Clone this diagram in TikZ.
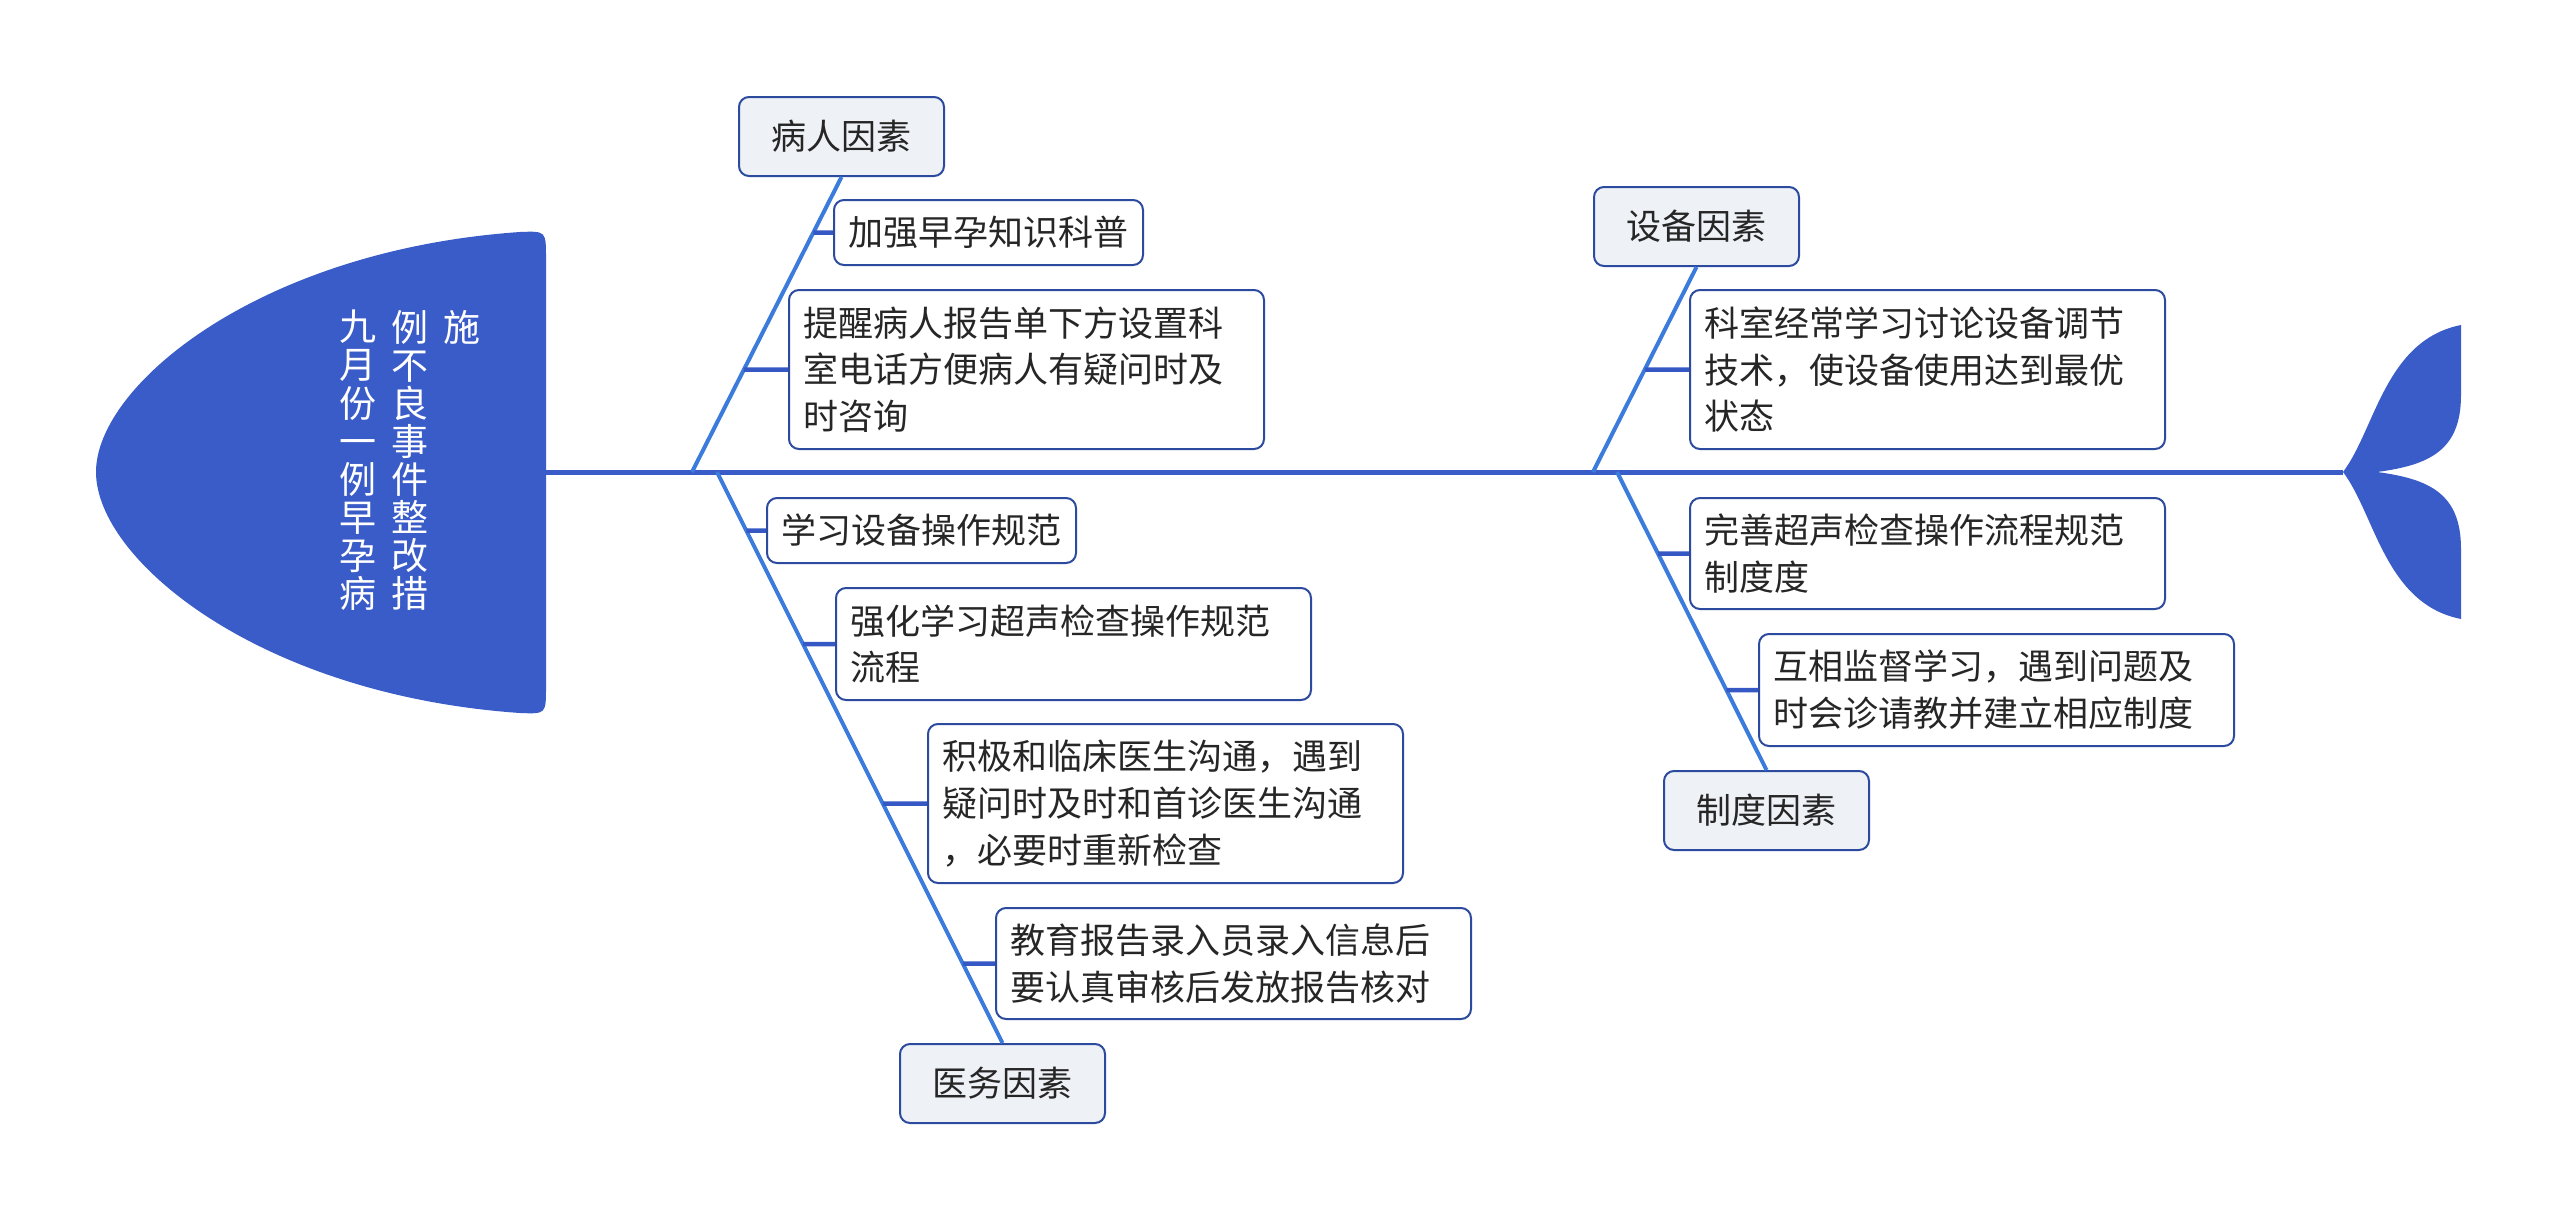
\documentclass[tikz,border=0pt]{standalone}
\usepackage{fontspec}
\setmainfont{Noto Sans CJK SC}
\definecolor{fishblue}{HTML}{3A5CC8}
\definecolor{branchblue}{HTML}{3B7BDC}
\definecolor{subblue}{HTML}{3558C4}
\definecolor{boxborder}{HTML}{2C4A9E}
\definecolor{catfill}{HTML}{EEF1F6}
\definecolor{txt}{HTML}{262626}
\begin{document}
\begin{tikzpicture}[x=1pt,y=-1pt,
  boxbase/.style={draw=boxborder, line width=2pt, rounded corners=10pt, text=txt,
    font=\fontsize{35}{46.7}\selectfont, inner sep=0pt, anchor=north west},
  catbox/.style={boxbase, fill=catfill, minimum width=205pt, minimum height=79pt},
  leafone/.style={boxbase, fill=white, inner xsep=14.5pt, minimum height=65pt},
  leafmulti/.style={boxbase, fill=white, inner xsep=14pt, text width=447pt, align=left},
  branch/.style={draw=branchblue, line width=4pt},
  twig/.style={draw=subblue, line width=4.5pt},
  spineline/.style={draw=fishblue, line width=5pt},
  headtext/.style={text=white, font=\fontsize{37}{38.1}\selectfont, align=center, inner sep=0pt, anchor=north}
]
\useasboundingbox (0,0) rectangle (2560,1218);
\fill[white] (0,0) rectangle (2560,1218);

% fish head
\fill[fishblue] (96,472) .. controls (96,385) and (260,250) .. (520,232)
  .. controls (546,231) .. (546,258) -- (546,687)
  .. controls (546,714) .. (520,713)
  .. controls (260,695) and (96,560) .. (96,472) -- cycle;
\node[headtext] (t1) at (358,310) {九\\月\\份\\一\\例\\早\\孕\\病};
\node[headtext] (t2) at (410,310) {例\\不\\良\\事\\件\\整\\改\\措};
\node[headtext] (t3) at (462,310) {施};

% spine and tail
\coordinate (headR) at (546,472);
\coordinate (tailJ) at (2343,472);
\draw[spineline] (headR) -- (tailJ);
\fill[fishblue] (tailJ) .. controls (2375,430) and (2385,340) .. (2461,325)
  -- (2461,395) .. controls (2461,450) and (2430,465) .. (2377,472)
  .. controls (2430,479) and (2461,494) .. (2461,549)
  -- (2461,619) .. controls (2385,604) and (2375,514) .. (tailJ) -- cycle;

% junctions on spine
\coordinate (j1) at (692,472);
\coordinate (j2) at (717,472);
\coordinate (j3) at (1593,472);
\coordinate (j4) at (1617,472);

% category boxes
\node[catbox] (c1) at (738,96) {病人因素};
\node[catbox] (c2) at (899,1043) {医务因素};
\node[catbox] (c3) at (1593,186) {设备因素};
\node[catbox] (c4) at (1663,770) {制度因素};

% leaf boxes
\node[leafone] (s11) at (833,199) {加强早孕知识科普};
\node[leafmulti, minimum height=159pt] (s12) at (788,289) {提醒病人报告单下方设置科\\室电话方便病人有疑问时及\\时咨询};
\node[leafone] (s21) at (766,497) {学习设备操作规范};
\node[leafmulti, minimum height=112pt] (s22) at (835,587) {强化学习超声检查操作规范\\流程};
\node[leafmulti, minimum height=159pt] (s23) at (927,723) {积极和临床医生沟通，遇到\\疑问时及时和首诊医生沟通\\，必要时重新检查};
\node[leafmulti, minimum height=111pt] (s24) at (995,907) {教育报告录入员录入信息后\\要认真审核后发放报告核对};
\node[leafmulti, minimum height=159pt] (s31) at (1689,289) {科室经常学习讨论设备调节\\技术，使设备使用达到最优\\状态};
\node[leafmulti, minimum height=111pt] (s41) at (1689,497) {完善超声检查操作流程规范\\制度度};
\node[leafmulti, minimum height=112pt] (s42) at (1758,633) {互相监督学习，遇到问题及\\时会诊请教并建立相应制度};

% branches
\draw[branch] (j1) -- (c1.south);
\draw[branch] (j2) -- (c2.north);
\draw[branch] (j3) -- (c3.south);
\draw[branch] (j4) -- (c4.north);

% twigs
\draw[twig] (intersection of j1--c1.south and s11.west--s11.east) -- (s11.west);
\draw[twig] (intersection of j1--c1.south and s12.west--s12.east) -- (s12.west);
\draw[twig] (intersection of j2--c2.north and s21.west--s21.east) -- (s21.west);
\draw[twig] (intersection of j2--c2.north and s22.west--s22.east) -- (s22.west);
\draw[twig] (intersection of j2--c2.north and s23.west--s23.east) -- (s23.west);
\draw[twig] (intersection of j2--c2.north and s24.west--s24.east) -- (s24.west);
\draw[twig] (intersection of j3--c3.south and s31.west--s31.east) -- (s31.west);
\draw[twig] (intersection of j4--c4.north and s41.west--s41.east) -- (s41.west);
\draw[twig] (intersection of j4--c4.north and s42.west--s42.east) -- (s42.west);
\end{tikzpicture}
\end{document}
